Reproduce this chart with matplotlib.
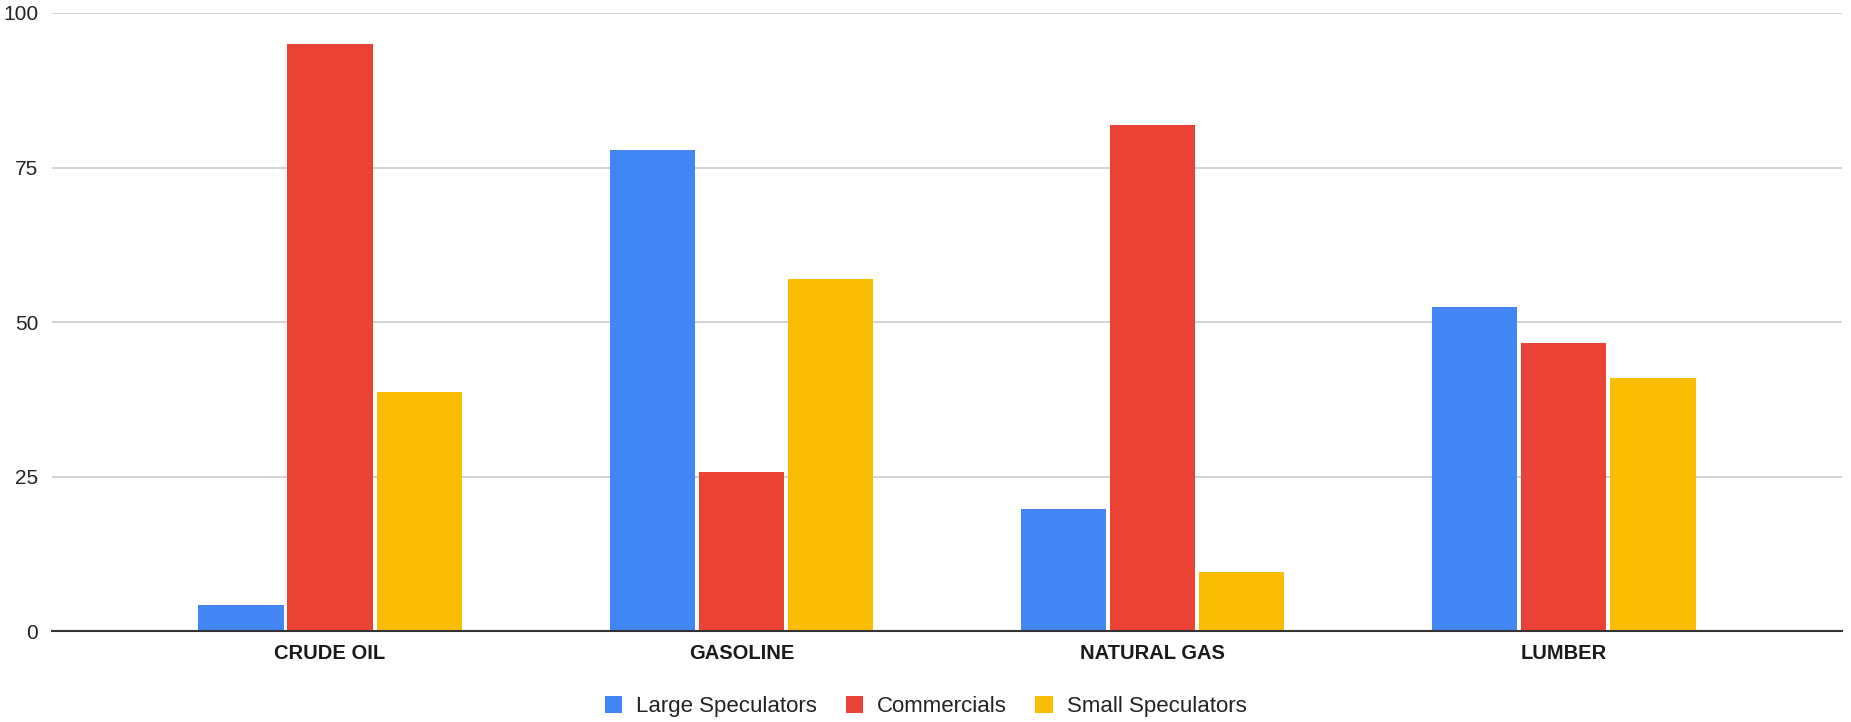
import numpy as np
import matplotlib
matplotlib.use("Agg")
import matplotlib.pyplot as plt

plt.rcParams['font.family'] = ['Liberation Sans', 'DejaVu Sans']

# data
categories = ["CRUDE OIL", "GASOLINE", "NATURAL GAS", "LUMBER"]
series_names = ["Large Speculators", "Commercials", "Small Speculators"]
large_spec = [4.2, 77.8, 19.8, 52.5]
commercials = [95.0, 25.7, 81.8, 46.6]
small_spec = [38.7, 57.0, 9.6, 40.9]
colors = ["#4285F4", "#EA4335", "#FBBC04"]

fig = plt.figure(figsize=(18.51, 7.22), dpi=100)
ax = fig.add_axes([0.0281, 0.126, 0.967, 0.856])

x = np.arange(len(categories))
step = 0.2165
width = 0.207
for i, (vals, name) in enumerate(zip([large_spec, commercials, small_spec], series_names)):
    ax.bar(x + (i - 1) * step, vals, width, color=colors[i], label=name, zorder=3)

ax.set_xlim(-0.676, 3.676)
ax.set_ylim(0, 100)
ax.set_yticks([0, 25, 50, 75, 100])
ax.set_xticks(x)
ax.set_xticklabels(categories, fontsize=14.5, fontweight='bold', color='#1a1a1a')
ax.tick_params(axis='x', length=0, pad=9)
ax.tick_params(axis='y', length=0, labelsize=15, labelcolor='#222222', pad=10)
ax.grid(axis='y', color='#cccccc', linewidth=1.2, zorder=0)
for s in ['top', 'right', 'left']:
    ax.spines[s].set_visible(False)
ax.spines['bottom'].set_color('#333333')
ax.spines['bottom'].set_linewidth(1.5)
ax.spines['bottom'].set_zorder(4)

leg = fig.legend(loc='center', bbox_to_anchor=(0.5, 0.021), ncol=3, frameon=False,
                 fontsize=16, handlelength=0.8, handleheight=0.8, columnspacing=1.3,
                 handletextpad=0.6)
for t in leg.get_texts():
    t.set_color('#222222')

fig.savefig("out.png", dpi=100)
